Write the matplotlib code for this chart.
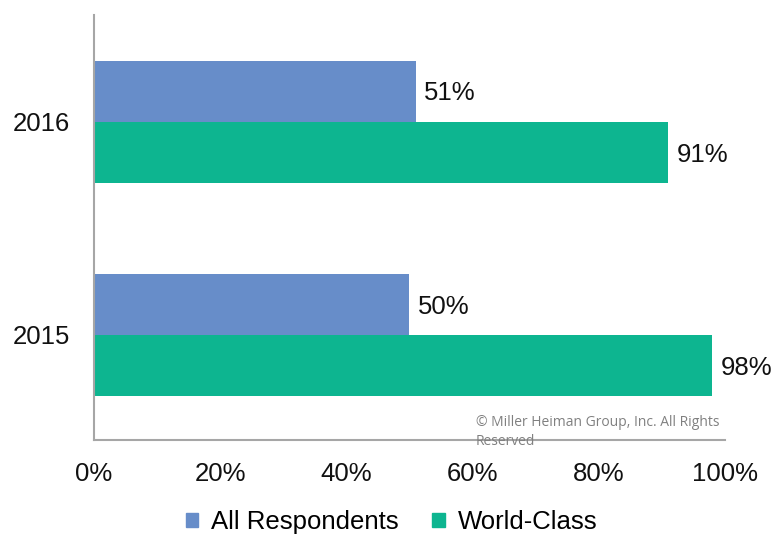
import numpy as np
import matplotlib.pyplot as plt
from matplotlib.patches import Patch

years = ["2015", "2016"]
all_resp = [0.50, 0.51]
world_class = [0.98, 0.91]
x_ticks = [0, 0.2, 0.4, 0.6, 0.8, 1.0]
x_labels = ["0%", "20%", "40%", "60%", "80%", "100%"]

blue = "#678DC9"
green = "#0DB590"
axis_grey = "#A6A6A6"

plt.rcParams['font.family'] = ['Liberation Sans', 'DejaVu Sans']

fig = plt.figure(figsize=(7.71, 5.34), dpi=100)
ax = fig.add_axes([0.1219, 0.176, 0.8184, 0.7959])

pos = np.arange(len(years))
h = 0.287
b1 = ax.barh(pos + h / 2, all_resp, height=h, color=blue)
b2 = ax.barh(pos - h / 2, world_class, height=h, color=green)

# value labels just right of the bars
for bars, vals in [(b1, all_resp), (b2, world_class)]:
    for bar, v in zip(bars, vals):
        ax.annotate(f"{v*100:.0f}%", (bar.get_width(), bar.get_y() + bar.get_height() / 2),
                    xytext=(6, -1.5), textcoords="offset points",
                    va="center", ha="left", fontsize=18.5, color="#111111")

ax.set_xlim(0, 1.0)
ax.set_ylim(-0.493, 1.502)
ax.set_xticks(x_ticks)
ax.set_xticklabels(x_labels)
ax.set_yticks(pos)
ax.set_yticklabels(years)
ax.tick_params(axis="both", length=0, labelsize=18.5, colors="#111111")
ax.tick_params(axis="x", pad=16)
ax.tick_params(axis="y", pad=17)

for s in ["top", "right"]:
    ax.spines[s].set_visible(False)
for s in ["left", "bottom"]:
    ax.spines[s].set_color(axis_grey)
    ax.spines[s].set_linewidth(1.5)
ax.set_facecolor("none")

fig.text(476 / 771, 1 - 432 / 534, "© Miller Heiman Group, Inc. All Rights\nReserved",
         fontsize=10, color="#808080", family=["Open Sans", "DejaVu Sans"],
         va="center", ha="left", linespacing=1.3)

handles = [Patch(color=blue, label="All Respondents"), Patch(color=green, label="World-Class")]
fig.legend(handles=handles, loc="center", bbox_to_anchor=(0.508, 1 - 522 / 534), ncol=2,
           frameon=False, fontsize=18.5, handlelength=0.5, handleheight=0.5,
           handletextpad=0.5, columnspacing=1.3, borderaxespad=0, borderpad=0)

fig.savefig("out.png", dpi=100)
